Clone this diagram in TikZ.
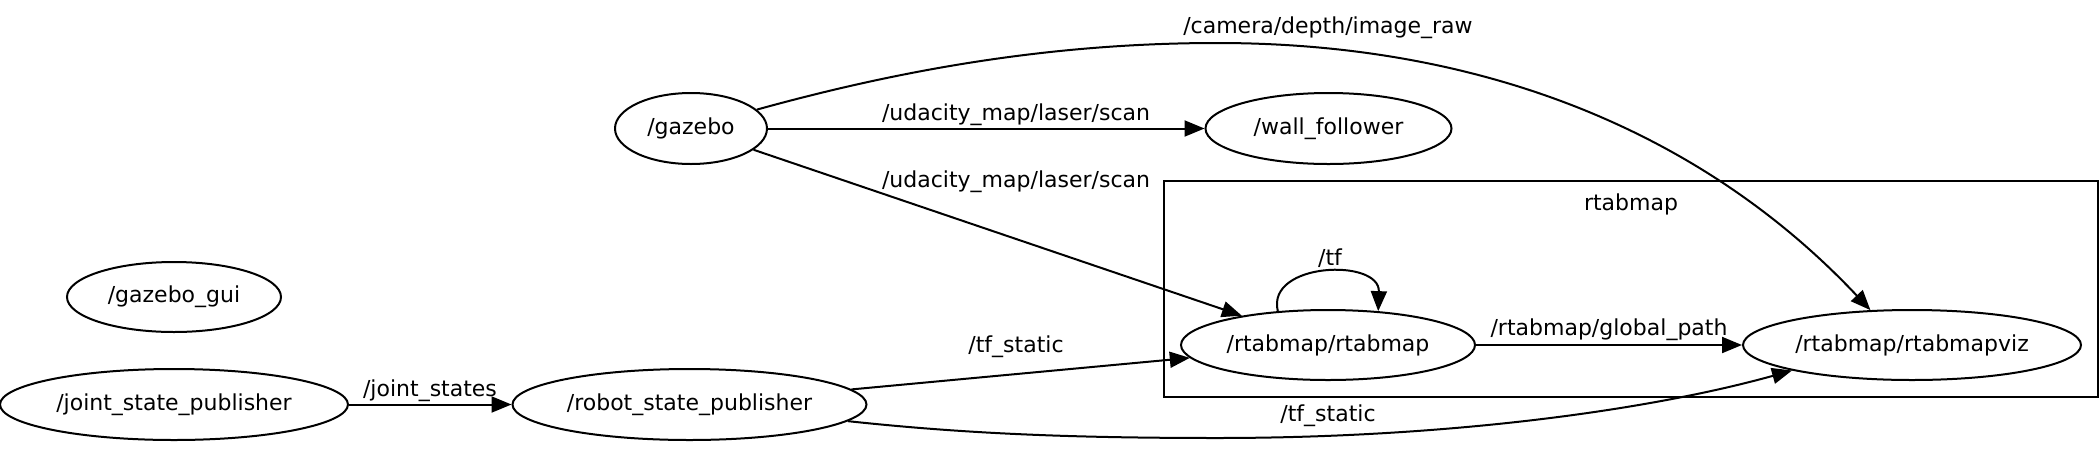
\documentclass[tikz,border=0pt]{standalone}
\usepackage{fontspec}
\setmainfont{DejaVu Sans}
\usetikzlibrary{arrows.meta,shapes.geometric}
\begin{document}
\begin{tikzpicture}[x=0.5pt,y=-0.5pt,
  font=\fontsize{11}{13}\selectfont,
  nd/.style={draw,ellipse,line width=1pt,inner sep=0pt},
  edge/.style={line width=1pt,-{Triangle[length=10pt,width=8pt]}},
  lbl/.style={inner sep=0pt}]
\useasboundingbox (0,0) rectangle (2100,451);
% cluster
\draw[line width=1pt] (1164,181) rectangle (2098,397);
\node[lbl] (clusterlbl) at (1631,204) {rtabmap};
% nodes
\node[nd,minimum width=76pt,minimum height=35.5pt] (gazebo) at (691,128.5) {/gazebo};
\node[nd,minimum width=123pt,minimum height=35.5pt] (wall) at (1328.5,128.5) {/wall\_follower};
\node[nd,minimum width=107pt,minimum height=35pt] (gui) at (174,297) {/gazebo\_gui};
\node[nd,minimum width=174pt,minimum height=35.5pt] (jsp) at (174,404.5) {/joint\_state\_publisher};
\node[nd,minimum width=177pt,minimum height=35.5pt] (rsp) at (689.5,404.5) {/robot\_state\_publisher};
\node[nd,minimum width=147pt,minimum height=35pt] (rtab) at (1328,345) {/rtabmap/rtabmap};
\node[nd,minimum width=169pt,minimum height=35pt] (viz) at (1912,345) {/rtabmap/rtabmapviz};
% edges
\draw[edge] (jsp) -- (rsp);
\node[lbl] (l1) at (430,391) {/joint\_states};
\draw[edge] (gazebo) -- (wall);
\node[lbl] (l2) at (1016,115) {/udacity\_map/laser/scan};
\draw[edge] (gazebo) -- (rtab);
\node[lbl] (l3) at (1016,182) {/udacity\_map/laser/scan};
\draw[edge] (rsp) -- (rtab);
\node[lbl] (l4) at (1016,347) {/tf\_static};
\draw[edge] (rsp.-6.2) .. controls (950,432) and (1050,438) .. (1217,438)
  .. controls (1450,438) and (1650,410) .. (viz.192.6);
\node[lbl] (l5) at (1328,416) {/tf\_static};
\draw[edge] (gazebo.16) .. controls (900,70) and (1050,43) .. (1217,43)
  .. controls (1510,43) and (1720,150) .. (viz.140);
\node[lbl] (l6) at (1328,28) {/camera/depth/image\_raw};
\draw[edge] (rtab.146) .. controls (1266,262) and (1380,258) .. (rtab.34);
\node[lbl] (l7) at (1330,258) {/tf};
\draw[edge] (rtab) -- (viz);
\node[lbl] (l8) at (1609,330) {/rtabmap/global\_path};
\end{tikzpicture}
\end{document}
